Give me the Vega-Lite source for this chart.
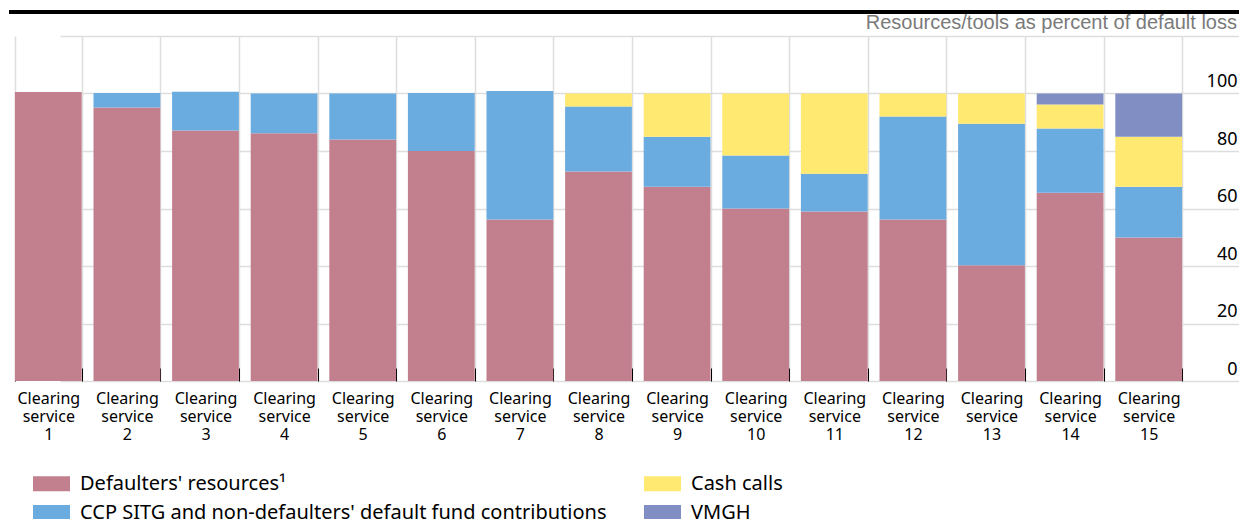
{
  "$schema": "https://vega.github.io/schema/vega-lite/v6.json",
  "width": 1230,
  "height": 345,
  "autosize": {"type": "none"},
  "padding": {"left": 9, "top": 36, "right": 0, "bottom": 138},
  "background": "white",
  "config": {"view": {"stroke": null}, "font": "Noto Sans"},
  "title": {
    "text": "Resources/tools as percent of default loss",
    "anchor": "end",
    "frame": "group",
    "font": "Liberation Sans",
    "fontSize": 20,
    "fontWeight": "normal",
    "color": "#7a7a7a",
    "offset": 5,
    "dx": -2,
    "dy": 27
  },
  "data": {
    "values": [
      {"cs": "1", "tool": "Defaulters' resources¹", "v": 100.5},
      {"cs": "2", "tool": "Defaulters' resources¹", "v": 95.1},
      {"cs": "2", "tool": "CCP SITG and non-defaulters' default fund contributions", "v": 5.1},
      {"cs": "3", "tool": "Defaulters' resources¹", "v": 87.1},
      {"cs": "3", "tool": "CCP SITG and non-defaulters' default fund contributions", "v": 13.5},
      {"cs": "4", "tool": "Defaulters' resources¹", "v": 86.2},
      {"cs": "4", "tool": "CCP SITG and non-defaulters' default fund contributions", "v": 13.8},
      {"cs": "5", "tool": "Defaulters' resources¹", "v": 84.0},
      {"cs": "5", "tool": "CCP SITG and non-defaulters' default fund contributions", "v": 16.0},
      {"cs": "6", "tool": "Defaulters' resources¹", "v": 80.0},
      {"cs": "6", "tool": "CCP SITG and non-defaulters' default fund contributions", "v": 20.2},
      {"cs": "7", "tool": "Defaulters' resources¹", "v": 56.2},
      {"cs": "7", "tool": "CCP SITG and non-defaulters' default fund contributions", "v": 44.7},
      {"cs": "8", "tool": "Defaulters' resources¹", "v": 72.9},
      {"cs": "8", "tool": "CCP SITG and non-defaulters' default fund contributions", "v": 22.6},
      {"cs": "8", "tool": "Cash calls", "v": 4.5},
      {"cs": "9", "tool": "Defaulters' resources¹", "v": 67.6},
      {"cs": "9", "tool": "CCP SITG and non-defaulters' default fund contributions", "v": 17.4},
      {"cs": "9", "tool": "Cash calls", "v": 15.0},
      {"cs": "10", "tool": "Defaulters' resources¹", "v": 60.0},
      {"cs": "10", "tool": "CCP SITG and non-defaulters' default fund contributions", "v": 18.4},
      {"cs": "10", "tool": "Cash calls", "v": 21.6},
      {"cs": "11", "tool": "Defaulters' resources¹", "v": 59.0},
      {"cs": "11", "tool": "CCP SITG and non-defaulters' default fund contributions", "v": 13.1},
      {"cs": "11", "tool": "Cash calls", "v": 27.9},
      {"cs": "12", "tool": "Defaulters' resources¹", "v": 56.2},
      {"cs": "12", "tool": "CCP SITG and non-defaulters' default fund contributions", "v": 35.8},
      {"cs": "12", "tool": "Cash calls", "v": 8.0},
      {"cs": "13", "tool": "Defaulters' resources¹", "v": 40.3},
      {"cs": "13", "tool": "CCP SITG and non-defaulters' default fund contributions", "v": 49.2},
      {"cs": "13", "tool": "Cash calls", "v": 10.5},
      {"cs": "14", "tool": "Defaulters' resources¹", "v": 65.5},
      {"cs": "14", "tool": "CCP SITG and non-defaulters' default fund contributions", "v": 22.3},
      {"cs": "14", "tool": "Cash calls", "v": 8.4},
      {"cs": "14", "tool": "VMGH", "v": 3.8},
      {"cs": "15", "tool": "Defaulters' resources¹", "v": 49.9},
      {"cs": "15", "tool": "CCP SITG and non-defaulters' default fund contributions", "v": 17.7},
      {"cs": "15", "tool": "Cash calls", "v": 17.4},
      {"cs": "15", "tool": "VMGH", "v": 15.0}
    ]
  },
  "layer": [
    {
      "mark": {"type": "bar"},
      "transform": [
        {"calculate": "indexof(['Defaulters\\' resources¹', 'CCP SITG and non-defaulters\\' default fund contributions', 'Cash calls', 'VMGH'], datum.tool)", "as": "ord"}
      ],
      "encoding": {
        "x": {
          "field": "cs",
          "type": "nominal",
          "scale": {
            "domain": ["1","2","3","4","5","6","7","8","9","10","11","12","13","14","15"],
            "range": [0, 1179],
            "paddingInner": 0.15,
            "paddingOuter": 0.075
          },
          "axis": {
            "title": null,
            "tickBand": "extent",
            "grid": true,
            "gridColor": "#dddddd",
            "gridWidth": 1.5,
            "domain": false,
            "ticks": true,
            "tickColor": "#000000",
            "tickSize": -13,
            "tickWidth": 1,
            "labelAngle": 0,
            "labelFont": "Noto Sans",
            "labelFontSize": 16,
            "labelColor": "#000000",
            "labelExpr": "datum.extra ? '' : ['Clearing', 'service', datum.value]",
            "labelLineHeight": 18,
            "labelPadding": 22,
            "labelBaseline": "top"
          }
        },
        "y": {
          "field": "v",
          "type": "quantitative",
          "stack": "zero",
          "title": null,
          "scale": {"domain": [0, 120], "nice": false},
          "axis": {
            "orient": "right",
            "values": [0, 20, 40, 60, 80, 100, 120],
            "grid": true,
            "gridColor": "#dddddd",
            "gridWidth": 1.5,
            "domain": false,
            "ticks": false,
            "labelExpr": "datum.value == 120 ? '' : datum.label",
            "labelAlign": "right",
            "labelPadding": -2,
            "labelBaseline": "alphabetic",
            "labelOffset": -7,
            "labelFont": "Noto Sans",
            "labelFontSize": 18,
            "labelColor": "#000000"
          }
        },
        "color": {
          "field": "tool",
          "type": "nominal",
          "scale": {
            "domain": ["Defaulters' resources¹", "CCP SITG and non-defaulters' default fund contributions", "Cash calls", "VMGH"],
            "range": ["#C2808F", "#6AACE0", "#FFE970", "#818EC4"]
          },
          "legend": {
            "orient": "none",
            "legendX": 24,
            "legendY": 429,
            "columns": 2,
            "title": null,
            "padding": 0,
            "symbolType": "M-1,-0.405H1V0.405H-1Z",
            "symbolSize": 1369,
            "symbolStrokeWidth": 0,
            "symbolOpacity": 1,
            "labelFont": "Noto Sans",
            "labelFontSize": 20,
            "labelColor": "#000000",
            "labelOffset": 10,
            "labelLimit": 0,
            "columnPadding": 37,
            "rowPadding": -10
          }
        },
        "order": {"field": "ord", "type": "quantitative"}
      }
    },
    {
      "mark": {"type": "rule", "color": "#000000", "strokeWidth": 2.5},
      "encoding": {
        "y": {"datum": 128.35, "type": "quantitative", "title": null}
      }
    }
  ]
}
